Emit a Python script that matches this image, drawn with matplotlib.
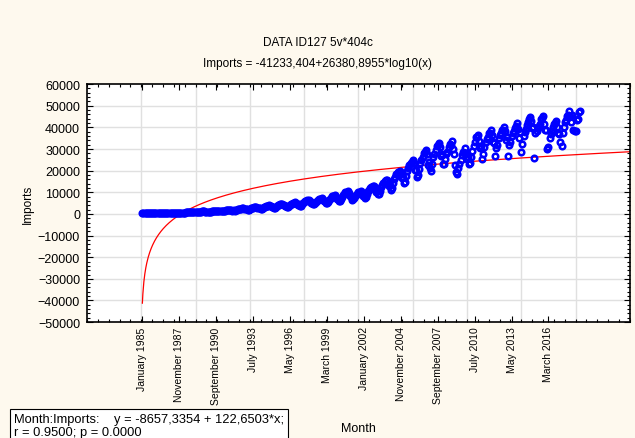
# Statistica-style scatter: monthly imports with log10 fit
import numpy as np
import matplotlib.pyplot as plt

plt.rcParams['font.family'] = ['Liberation Sans', 'DejaVu Sans']

# monthly imports, Jan 1985 .. Aug 2018 (404 months)
imports_by_year = [
    [260, 250, 280, 300, 330, 330, 340, 350, 360, 370, 340, 310],
    [330, 300, 320, 370, 400, 420, 440, 460, 470, 480, 430, 380],
    [420, 380, 400, 470, 520, 540, 580, 620, 640, 640, 560, 510],
    [560, 520, 560, 640, 700, 740, 780, 820, 850, 860, 760, 700],
    [800, 720, 780, 900, 1000, 1050, 1100, 1170, 1200, 1210, 1090, 950],
    [1050, 900, 950, 1100, 1250, 1320, 1420, 1520, 1500, 1560, 1420, 1280],
    [1320, 1150, 1200, 1380, 1550, 1640, 1770, 1880, 1900, 1950, 1760, 1560],
    [1700, 1550, 1600, 1850, 2100, 2200, 2380, 2500, 2550, 2600, 2400, 2200],
    [2200, 1850, 1950, 2250, 2550, 2700, 2950, 3150, 3200, 3250, 2950, 2600],
    [2700, 2300, 2400, 2750, 3150, 3400, 3650, 3850, 3900, 3950, 3600, 3200],
    [3200, 2800, 2900, 3300, 3700, 3950, 4200, 4500, 4600, 4700, 4300, 3800],
    [3700, 3100, 3200, 3700, 4200, 4450, 4800, 5150, 5200, 5300, 4800, 4200],
    [4400, 3700, 3800, 4400, 5000, 5400, 5900, 6200, 6300, 6400, 5800, 5100],
    [5100, 4400, 4500, 5100, 5700, 6100, 6600, 7000, 7100, 7200, 6500, 5800],
    [5800, 5000, 5000, 5700, 6400, 6900, 7600, 8100, 8300, 8600, 7700, 6700],
    [7100, 6000, 6100, 7000, 8000, 8600, 9300, 10000, 10100, 10500, 9500, 8100],
    [7900, 6400, 6800, 7600, 8300, 8800, 9300, 10100, 10300, 10600, 9500, 8500],
    [8600, 7300, 7700, 9000, 10400, 11000, 11800, 12400, 12700, 13000, 11900, 10000],
    [10600, 9100, 9000, 10800, 12400, 13400, 14300, 15100, 15600, 15900, 14500, 12800],
    [13400, 11200, 11900, 14300, 16300, 17300, 18500, 19500, 19400, 19700, 18400, 16400],
    [16900, 14400, 14600, 17500, 19800, 21100, 22400, 23700, 24100, 25000, 23500, 20300],
    [20500, 17200, 18100, 20700, 23600, 25000, 26500, 28100, 28700, 29400, 27500, 22500],
    [23800, 21300, 19700, 23300, 26100, 27600, 29500, 31300, 31800, 32700, 30800, 26900],
    [27600, 23200, 23000, 25300, 27800, 28700, 31000, 32500, 32000, 33800, 30000, 27500],
    [22800, 19200, 18600, 21400, 23300, 25000, 27100, 28600, 28400, 30300, 28100, 25300],
    [26500, 22900, 23500, 26200, 29200, 31500, 33400, 35400, 35600, 36300, 33800, 30500],
    [31500, 25200, 27700, 31000, 33300, 34700, 35800, 37200, 37600, 38700, 36400, 33100],
    [32800, 27000, 30500, 31900, 35300, 36300, 37400, 38800, 38700, 40100, 38200, 34200],
    [35500, 27000, 31700, 33200, 36000, 37200, 38500, 39700, 40500, 42000, 39300, 35100],
    [37700, 28600, 32500, 36000, 38000, 39400, 41000, 42300, 43700, 44700, 42900, 39800],
    [40300, 25800, 37200, 38300, 39700, 40500, 41500, 43800, 44500, 45300, 41500, 39000],
    [38800, 29900, 31000, 35200, 37100, 38400, 40000, 41400, 42100, 43200, 40000, 37200],
    [37100, 33400, 31200, 37500, 40000, 42400, 43300, 45100, 45600, 47500, 45100, 42500],
    [45600, 39000, 38300, 38200, 43400, 43700, 47100, 47700],
]
imports = np.concatenate([np.array(r, dtype=float) for r in imports_by_year])
month = np.arange(1, len(imports) + 1)

# fitted curve: Imports = a + b*log10(x)
fit_a = -41233.404
fit_b = 26380.8955

tick_months = [1, 35, 69, 103, 137, 171, 205, 239, 273, 307, 341, 375]
tick_labels = ['January 1985', 'November 1987', 'September 1990', 'July 1993',
               'May 1996', 'March 1999', 'January 2002', 'November 2004',
               'September 2007', 'July 2010', 'May 2013', 'March 2016']

cream = '#fef9ee'
fig = plt.figure(figsize=(6.35, 4.39), dpi=100, facecolor=cream)
ax = fig.add_axes([0.137, 0.264, 0.855, 0.542])
ax.set_facecolor('white')

xmin, xmax = -50, 450
ymin, ymax = -50000, 60000

# grid
for gx in np.arange(0, xmax + 1, 50):
    ax.axvline(gx, color='#e0e0e0', lw=1, zorder=0)
for gy in np.arange(ymin + 10000, ymax, 10000):
    ax.axhline(gy, color='#e0e0e0', lw=1, zorder=0)

xs = np.linspace(1, xmax, 1000)
ax.plot(xs, fit_a + fit_b * np.log10(xs), color='red', lw=0.9, zorder=2)
ax.plot(month, imports, 'o', ms=4, mfc='none', mec='blue', mew=1.8, zorder=3)

ax.set_xlim(xmin, xmax)
ax.set_ylim(ymin, ymax)
ax.set_yticks(np.arange(ymin, ymax + 1, 10000))
ax.set_yticks(np.arange(ymin, ymax + 1, 2000), minor=True)
ax.set_xticks(tick_months)
ax.set_xticklabels(tick_labels, rotation=90, fontsize=7.5)
ax.set_xticks(np.arange(xmin, xmax + 1, 10), minor=True)
ax.tick_params(axis='both', which='both', direction='in', top=True, right=True,
               width=0.8, color='black')
ax.tick_params(axis='both', which='major', length=4)
ax.tick_params(axis='both', which='minor', length=2.5)
ax.tick_params(axis='x', which='major', pad=3)
ax.tick_params(axis='y', labelsize=9, pad=5)
for s in ax.spines.values():
    s.set_linewidth(1.2)

ax.set_ylabel('Imports', fontsize=8.5, labelpad=3)
fig.text(0.565, 0.015, 'Month', ha='center', fontsize=9)

fig.text(0.5, 0.895, 'DATA ID127 5v*404c', ha='center', fontsize=8.5)
fig.text(0.5, 0.847, 'Imports = -41233,404+26380,8955*log10(x)', ha='center', fontsize=8.5)

fig.text(0.022, 0.058,
         'Month:Imports:    y = -8657,3354 + 122,6503*x;\nr = 0.9500; p = 0.0000',
         ha='left', va='top', fontsize=9.3, linespacing=1.15,
         bbox=dict(boxstyle='square,pad=0.3', facecolor='white', edgecolor='black', lw=0.8))

fig.savefig('out.png', dpi=100, facecolor=cream)
